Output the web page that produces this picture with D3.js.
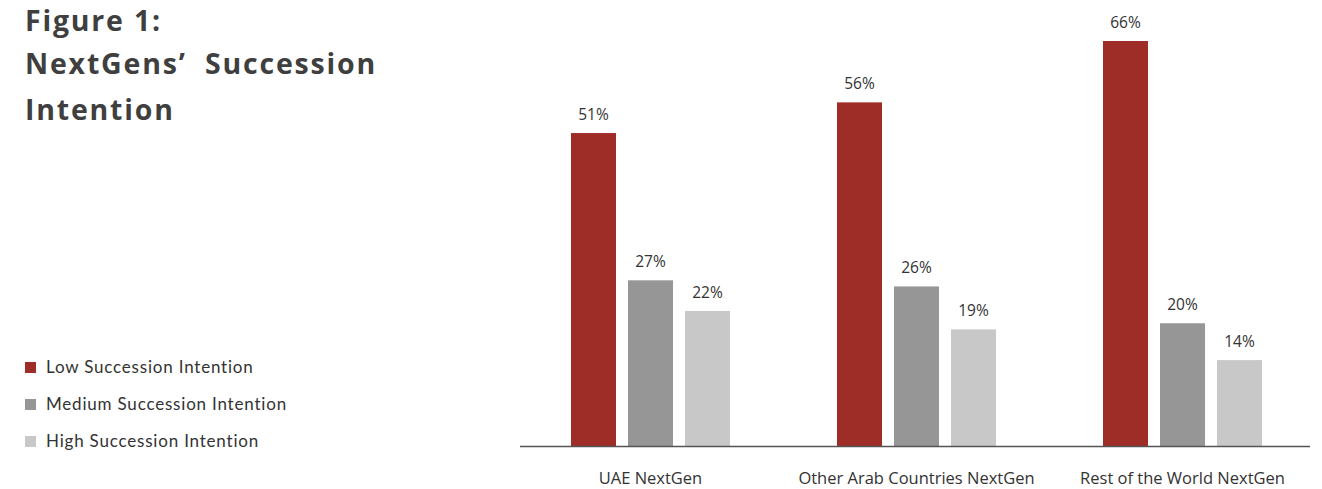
<!DOCTYPE html>
<html>
<head>
<meta charset="utf-8">
<script src="https://cdn.jsdelivr.net/npm/d3@7"></script>
<style>
  body { margin: 0; background: #fff; }
  svg { display: block; }
</style>
</head>
<body>
<div id="chart"></div>
<script>
// chart data
var categories = ["UAE NextGen", "Other Arab Countries NextGen", "Rest of the World NextGen"];
var seriesNames = ["Low Succession Intention", "Medium Succession Intention", "High Succession Intention"];
var lowValues = [51, 56, 66];
var mediumValues = [27, 26, 20];
var highValues = [22, 19, 14];
var titleLines = ["Figure 1:", "NextGens\u2019  Succession", "Intention"];

var colors = ["#9e2d28", "#969696", "#c8c8c8"];

var svgWidth = 1322;
var svgHeight = 489;

var svg = d3.select("#chart")
  .append("svg")
  .attr("width", svgWidth)
  .attr("height", svgHeight);

// title
svg.append("g")
  .selectAll("text")
  .data(titleLines)
  .enter()
  .append("text")
  .attr("x", 25)
  .attr("y", (d, i) => [31, 74, 120][i])
  .attr("xml:space", "preserve")
  .style("font-family", "'Open Sans', sans-serif")
  .style("font-weight", "bold")
  .style("font-size", "28.5px")
  .style("letter-spacing", "1.8px")
  .style("fill", "#3f3f3f")
  .text(d => d);

// legend
var legend = svg.append("g").attr("transform", "translate(25, 367)");
var legendItem = legend.selectAll("g")
  .data(seriesNames)
  .enter()
  .append("g")
  .attr("transform", (d, i) => `translate(0, ${i * 37})`);
legendItem.append("rect")
  .attr("x", 0)
  .attr("y", -5)
  .attr("width", 11)
  .attr("height", 11)
  .attr("fill", (d, i) => colors[i]);
legendItem.append("text")
  .attr("x", 21)
  .attr("y", 6)
  .style("font-family", "Lato, sans-serif")
  .style("font-size", "17px")
  .style("letter-spacing", "0.8px")
  .style("fill", "#333")
  .text(d => d);

// plot
var baseline = 446;
var xScale = d3.scaleBand()
  .domain(categories)
  .range([517.5, 1315.5]);

var xInner = d3.scaleBand()
  .domain(seriesNames)
  .range([53.5, 212.5])
  .paddingInner(12 / 57);

var yScale = d3.scaleLinear()
  .domain([0, 66])
  .range([baseline, 41]);

var series = [lowValues, mediumValues, highValues];

var groups = svg.selectAll(".group")
  .data(categories)
  .enter()
  .append("g")
  .attr("class", "group")
  .attr("transform", d => `translate(${xScale(d)}, 0)`);

groups.each(function(cat, ci) {
  var g = d3.select(this);
  var rows = seriesNames.map((s, si) => ({ name: s, value: series[si][ci], color: colors[si] }));

  g.selectAll("rect")
    .data(rows)
    .enter()
    .append("rect")
    .attr("x", d => xInner(d.name))
    .attr("y", d => yScale(d.value))
    .attr("width", xInner.bandwidth())
    .attr("height", d => baseline - yScale(d.value))
    .attr("fill", d => d.color);

  g.selectAll("text.value")
    .data(rows)
    .enter()
    .append("text")
    .attr("class", "value")
    .attr("x", d => xInner(d.name) + xInner.bandwidth() / 2)
    .attr("y", d => yScale(d.value) - 13)
    .attr("text-anchor", "middle")
    .style("font-family", "'Open Sans', sans-serif")
    .style("font-size", "15.5px")
    .style("fill", "#333")
    .text(d => d.value + "%");
});

// x axis line and labels
svg.append("line")
  .attr("x1", 520)
  .attr("x2", 1310)
  .attr("y1", baseline + 0.5)
  .attr("y2", baseline + 0.5)
  .attr("stroke", "#555")
  .attr("stroke-width", 1.5);

svg.selectAll(".cat")
  .data(categories)
  .enter()
  .append("text")
  .attr("class", "cat")
  .attr("x", d => xScale(d) + xScale.bandwidth() / 2)
  .attr("y", 484)
  .attr("text-anchor", "middle")
  .style("font-family", "'Open Sans', sans-serif")
  .style("font-size", "16.5px")
  .style("fill", "#333")
  .text(d => d);
</script>
</body>
</html>
